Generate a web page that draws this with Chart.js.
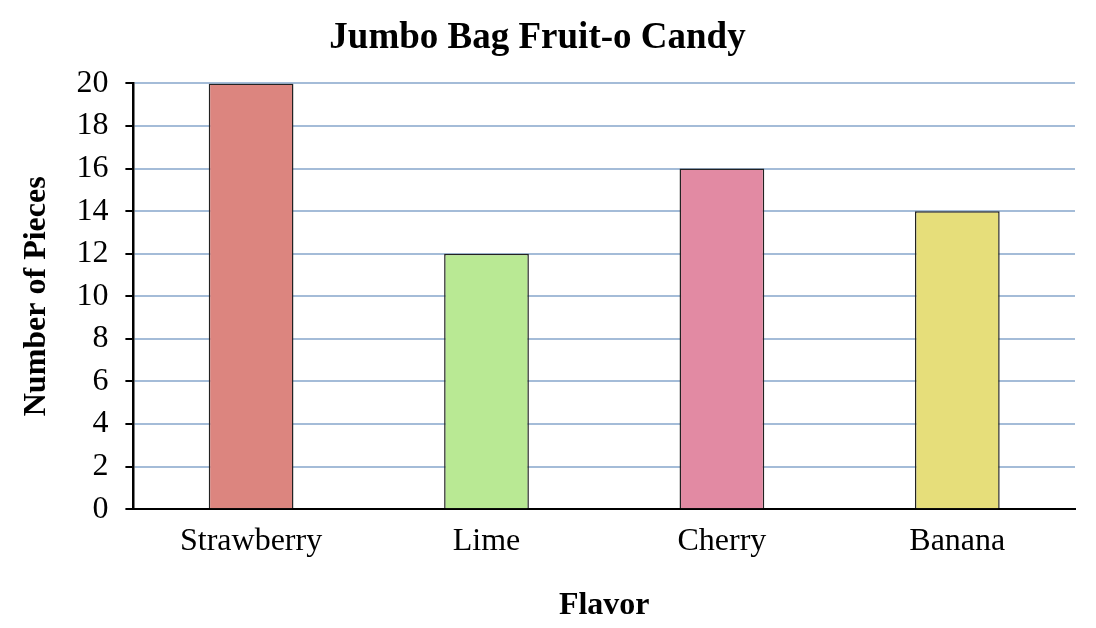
<!DOCTYPE html>
<html>
<head>
<meta charset="utf-8">
<script src="https://cdn.jsdelivr.net/npm/chart.js@4.4.1/dist/chart.umd.min.js"></script>
<style>
  html, body { margin: 0; padding: 0; background: #fff; }
  #wrap { width: 1096px; height: 628px; }
</style>
</head>
<body>
<div id="wrap"><canvas id="chartCandy"></canvas></div>
<script>
// flavors and counts
var flavors = ['Strawberry', 'Lime', 'Cherry', 'Banana'];
var pieces = [20, 12, 16, 14];
var barColors = ['#dc857f', '#b9e994', '#e28aa3', '#e6de7a'];

var serif = '"Liberation Serif", "Times New Roman", serif';

const candy = new Chart(
    document.getElementById('chartCandy'), {
        type: 'bar',
        data: {
            labels: flavors,
            datasets: [{
                data: pieces,
                backgroundColor: barColors,
                borderColor: '#222',
                borderWidth: 1.5,
                categoryPercentage: 1,
                barPercentage: 0.36
            }]
        },
        options: {
            responsive: true,
            maintainAspectRatio: false,
            animation: false,
            layout: { padding: { left: 0, right: 21, top: 0, bottom: 3 } },
            plugins: {
                legend: { display: false },
                tooltip: { enabled: false },
                title: {
                    display: true,
                    text: 'Jumbo Bag Fruit-o Candy',
                    color: '#000',
                    font: { family: serif, size: 37, weight: 'bold' },
                    padding: { top: 16, bottom: 23 }
                }
            },
            scales: {
                x: {
                    grid: { display: false },
                    border: { color: '#000', width: 2 },
                    ticks: {
                        color: '#000',
                        font: { family: serif, size: 32 },
                        padding: 5
                    },
                    title: {
                        display: true,
                        text: 'Flavor',
                        color: '#000',
                        font: { family: serif, size: 32, weight: 'bold' },
                        padding: { top: 21, bottom: 0 }
                    }
                },
                y: {
                    min: 0,
                    max: 20,
                    ticks: {
                        stepSize: 2,
                        color: '#000',
                        font: { family: serif, size: 32 },
                        padding: 17
                    },
                    grid: {
                        color: '#a4bcd8',
                        lineWidth: 2,
                        tickColor: '#000',
                        tickLength: 8
                    },
                    border: { color: '#000', width: 2.5 },
                    title: {
                        display: true,
                        text: 'Number of Pieces',
                        color: '#000',
                        font: { family: serif, size: 32, weight: 'bold' },
                        padding: { top: 18, bottom: 3 }
                    }
                }
            }
        }
    }
)
</script>
</body>
</html>
